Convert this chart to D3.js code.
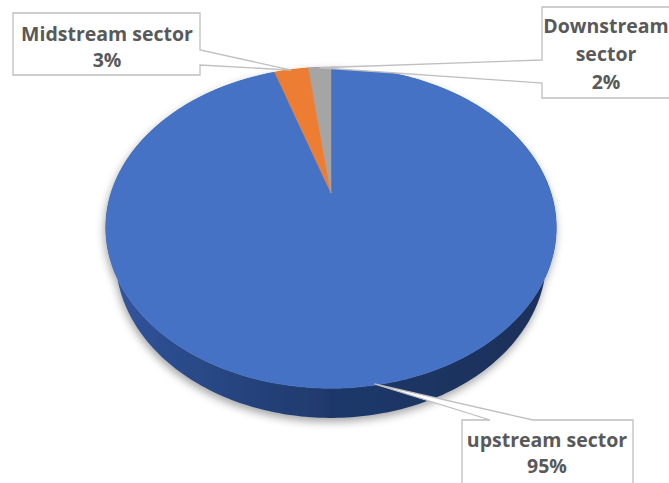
<!DOCTYPE html>
<html>
<head>
<meta charset="utf-8">
<script src="https://cdn.jsdelivr.net/npm/d3@7"></script>
<style>
  html, body { margin: 0; padding: 0; background: #fff; overflow: hidden; }
  .oznaka { font-family: "Open Sans", "Noto Sans", sans-serif; font-weight: 700; font-size: 19.5px; fill: #595959; text-anchor: middle; }
  .oblacic { fill: #fff; stroke: #bfbfbf; stroke-width: 1.3; }
</style>
</head>
<body>
<div id="okvir"></div>
<script>
// podaci
const kategorije = ["upstream sector", "Midstream sector", "Downstream sector"]
const vrijednosti = [95, 3, 2]
const redoviOznaka = [["upstream sector"], ["Midstream sector"], ["Downstream", "sector"]]
const boje = ["#4472c4", "#ed7d31", "#a5a5a5"]

function crtajPitu() {
  const dimenzije = { sirina: 669, visina: 483 }

  const okvir = d3.select("#okvir")
    .append("svg")
    .attr("width", dimenzije.sirina)
    .attr("height", dimenzije.visina)
    .style("display", "block")

  const defs = okvir.append("defs")

  // "3D" kamera - rucno podeseno prema slici
  const kamera = { cx: 331, cy: 193, k: 220, sinF: 0.696, D: 3.33, debljina: 0.21 }
  kamera.cosF = Math.sqrt(1 - kamera.sinF * kamera.sinF)

  const projekcija = (kut, z, r = 1) => {
    const x = r * Math.sin(kut)
    const y = -r * Math.cos(kut)
    const dubina = y * kamera.cosF + z * kamera.sinF
    const s = kamera.D / (kamera.D - dubina)
    return [kamera.cx + kamera.k * x * s, kamera.cy + kamera.k * (y * kamera.sinF - z * kamera.cosF) * s]
  }

  const luk = (a0, a1, z) => {
    const n = Math.max(2, Math.ceil(Math.abs(a1 - a0) / (Math.PI / 180)))
    return d3.range(n + 1).map(i => projekcija(a0 + (a1 - a0) * i / n, z))
  }

  const pita = d3.pie().sort(null).value(d => d)
  const kriske = pita(vrijednosti).map((d, i) => ({ ...d, i }))

  const linija = d3.line()

  // gradijent za bocni zid
  const gradijent = defs.append("linearGradient")
    .attr("id", "zid-nijansa")
    .attr("gradientUnits", "userSpaceOnUse")
    .attr("x1", 106).attr("x2", 556).attr("y1", 0).attr("y2", 0)
  ;[["0%", "#3356a0"], ["18%", "#2a4a89"], ["50%", "#1f396b"], ["80%", "#1c335f"], ["100%", "#1b3159"]]
    .forEach(([o, c]) => gradijent.append("stop").attr("offset", o).attr("stop-color", c))

  const sjena = defs.append("filter")
    .attr("id", "sjena")
    .attr("x", "-10%").attr("y", "-10%").attr("width", "120%").attr("height", "130%")
  sjena.append("feDropShadow")
    .attr("dx", -1).attr("dy", 4).attr("stdDeviation", 4)
    .attr("flood-color", "#000").attr("flood-opacity", 0.35)

  const granice = okvir.append("g").attr("filter", "url(#sjena)")

  const tamnije = c => d3.color(c).darker(1.1).formatHex()

  // bocni zidovi
  granice.selectAll(".zid")
    .data(kriske)
    .enter().append("path")
      .attr("class", "zid")
      .attr("d", d => {
        const gore = luk(d.startAngle, d.endAngle, 0)
        const dolje = luk(d.startAngle, d.endAngle, -kamera.debljina).reverse()
        return linija(gore.concat(dolje)) + "Z"
      })
      .attr("fill", d => d.i === 0 ? "url(#zid-nijansa)" : tamnije(boje[d.i]))

  // gornje plohe
  granice.selectAll(".ploha")
    .data(kriske)
    .enter().append("path")
      .attr("class", "ploha")
      .attr("d", d => linija([[kamera.cx, kamera.cy]].concat(luk(d.startAngle, d.endAngle, 0))) + "Z")
      .attr("fill", d => boje[d.i])
      .attr("stroke", d => boje[d.i])
      .attr("stroke-width", 0.5)

  // oblacici s oznakama
  const raspored = [
    { x: 462, y: 420, w: 171, h: 90, strana: "gore", baza: [490, 533], sredina: 547, redovi: [447, 473] },
    { x: 13, y: 13, w: 187, h: 62, strana: "desno", baza: [50, 65], sredina: 107, redovi: [41, 67] },
    { x: 542, y: 7, w: 200, h: 91, strana: "lijevo", baza: [60, 83], sredina: 606, redovi: [33, 61, 89] },
  ]

  const formatP = d3.format(".0%")
  const ukupno = d3.sum(vrijednosti)

  const oblacic = (b, vrh) => {
    const [tx, ty] = vrh
    if (b.strana === "desno")
      return `M${b.x},${b.y}H${b.x + b.w}V${b.baza[0]}L${tx},${ty}L${b.x + b.w},${b.baza[1]}V${b.y + b.h}H${b.x}Z`
    if (b.strana === "lijevo")
      return `M${b.x},${b.y}H${b.x + b.w}V${b.y + b.h}H${b.x}V${b.baza[1]}L${tx},${ty}L${b.x},${b.baza[0]}Z`
    return `M${b.x},${b.y}H${b.baza[0]}L${tx},${ty}L${b.baza[1]},${b.y}H${b.x + b.w}V${b.y + b.h}H${b.x}Z`
  }

  const oznake = okvir.selectAll(".oznaka-grupa")
    .data(kriske)
    .enter().append("g")
      .attr("class", "oznaka-grupa")

  oznake.append("path")
    .attr("class", "oblacic")
    .attr("d", d => oblacic(raspored[d.i], projekcija((d.startAngle + d.endAngle) / 2, 0, 0.995)))

  oznake.each(function (d) {
    const b = raspored[d.i]
    const redovi = redoviOznaka[d.i].concat([formatP(d.value / ukupno)])
    d3.select(this).selectAll("text")
      .data(redovi)
      .enter().append("text")
        .attr("class", "oznaka")
        .attr("x", b.sredina)
        .attr("y", (r, j) => b.redovi[j])
        .text(r => r)
  })
}
crtajPitu()
</script>
</body>
</html>
